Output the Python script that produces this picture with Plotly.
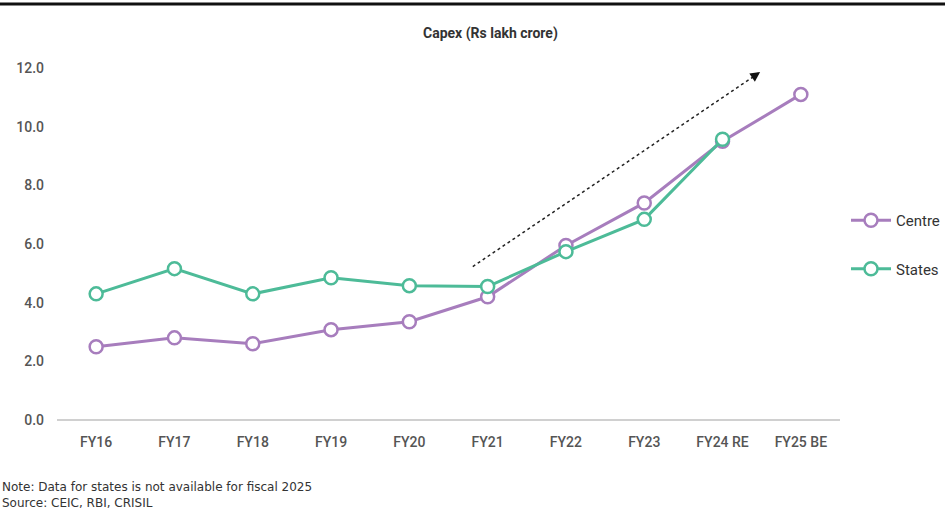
import plotly.graph_objects as go

categories = ["FY16", "FY17", "FY18", "FY19", "FY20", "FY21", "FY22", "FY23", "FY24 RE", "FY25 BE"]
centre = [2.50, 2.80, 2.60, 3.08, 3.35, 4.20, 5.95, 7.40, 9.50, 11.10]
states = [4.30, 5.16, 4.30, 4.85, 4.58, 4.55, 5.74, 6.84, 9.57, None]
y_ticks = [0, 2, 4, 6, 8, 10, 12]

# trend arrow (data coords: category index, value)
arrow_start = (4.81, 5.23)
arrow_end = (8.48, 11.86)

PURPLE = "#a77dbd"
TEAL = "#4dbb98"
W, H = 945, 512
L, R, T, B = 57, 105, 68, 92
pw = W - L - R
ph = H - T - B

fig = go.Figure()
fig.add_trace(go.Scatter(
    x=list(range(len(categories))), y=centre, name="Centre", mode="lines+markers",
    line=dict(color=PURPLE, width=3),
    marker=dict(symbol="circle", size=13, color="white", line=dict(color=PURPLE, width=2.5)),
    legendgroup="c",
))
fig.add_trace(go.Scatter(
    x=list(range(len(categories))), y=states, name="States", mode="lines+markers",
    line=dict(color=TEAL, width=3),
    marker=dict(symbol="circle", size=13, color="white", line=dict(color=TEAL, width=2.5)),
    legendgroup="s", connectgaps=False,
))

fig.add_shape(type="line", xref="x", yref="y",
              x0=arrow_start[0], y0=arrow_start[1], x1=arrow_end[0], y1=arrow_end[1],
              line=dict(color="#222", width=1.5, dash="dot"))
fig.add_annotation(x=arrow_end[0], y=arrow_end[1], ax=arrow_end[0] - 0.12, ay=arrow_end[1] - 0.22,
                   axref="x", ayref="y", xref="x", yref="y", text="", showarrow=True,
                   arrowhead=2, arrowsize=1.3, arrowwidth=1.5, arrowcolor="#111")

# top rule
fig.add_shape(type="line", xref="paper", yref="paper",
              x0=-L / pw, x1=(W - L) / pw, y0=(H - B - 4) / ph, y1=(H - B - 4) / ph,
              line=dict(color="#111", width=3))

fig.add_annotation(text="<b>Capex (Rs lakh crore)</b>", xref="paper", yref="paper",
                   x=(490 - L) / pw, y=(H - B - 33) / ph, showarrow=False,
                   font=dict(family="Roboto", size=14, color="#333"), xanchor="center", yanchor="middle")
fig.add_annotation(text="Note: Data for states is not available for fiscal 2025<br>Source: CEIC, RBI, CRISIL",
                   xref="paper", yref="paper", x=-L / pw, y=(H - B - 495) / ph, showarrow=False,
                   align="left", xanchor="left", yanchor="middle",
                   font=dict(family="DejaVu Sans", size=12, color="#333"))

fig.update_layout(
    width=W, height=H, margin=dict(l=L, r=R, t=T, b=B, autoexpand=False),
    paper_bgcolor="white", plot_bgcolor="white",
    font=dict(family="Roboto", color="#444", size=13),
    showlegend=True,
    legend=dict(x=(846 - L) / pw, y=(H - B - 204) / ph, xanchor="left", yanchor="top",
                font=dict(family="Roboto", size=15, color="#333"),
                itemwidth=40,
                tracegroupgap=26, traceorder="grouped", bgcolor="rgba(0,0,0,0)"),
    xaxis=dict(range=[-0.5, len(categories) - 0.5], tickmode="array",
               tickvals=list(range(len(categories))), ticktext=categories,
               showgrid=False, zeroline=False, showline=False, ticks="", ticklen=0,
               ticklabelstandoff=12,
               tickfont=dict(size=14, color="#555", weight=500)),
    yaxis=dict(range=[0, 12], tickvals=y_ticks, tickformat=".1f", showgrid=False,
               zeroline=True, zerolinecolor="#d0d0d0", zerolinewidth=1.5,
               showline=False, ticks="", ticklabelstandoff=12,
               tickfont=dict(size=14, color="#555", weight=500)),
)

fig.write_html("out.html")
